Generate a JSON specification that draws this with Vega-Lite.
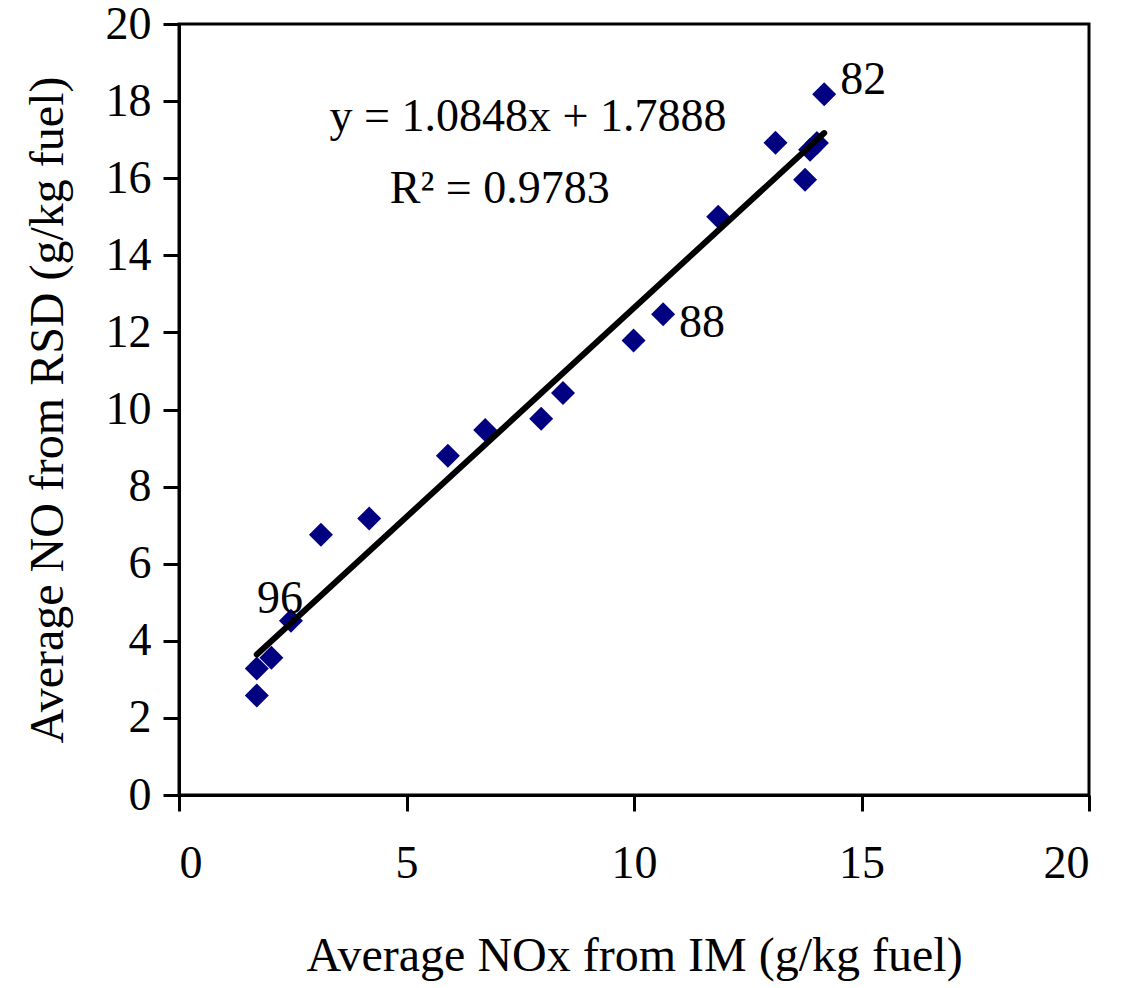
{
  "$schema": "https://vega.github.io/schema/vega-lite/v6.json",
  "width": 910,
  "height": 771,
  "autosize": {"type": "none"},
  "padding": {"left": 179, "top": 24, "right": 32, "bottom": 193},
  "background": "white",
  "config": {
    "font": "Liberation Serif",
    "view": {"stroke": "black", "strokeWidth": 3},
    "text": {"font": "Liberation Serif"},
    "axis": {
      "domainColor": "black", "domainWidth": 3,
      "tickColor": "black", "tickWidth": 3, "tickSize": 16,
      "grid": false,
      "labelFont": "Liberation Serif", "labelFontSize": 46, "labelColor": "black",
      "titleFont": "Liberation Serif", "titleFontSize": 48, "titleFontWeight": "normal", "titleColor": "black"
    }
  },
  "datasets": {
    "points": [
      {"nox_im": 1.71, "no_rsd": 2.58, "label": ""},
      {"nox_im": 1.71, "no_rsd": 3.28, "label": ""},
      {"nox_im": 2.03, "no_rsd": 3.56, "label": ""},
      {"nox_im": 2.46, "no_rsd": 4.52, "label": "96"},
      {"nox_im": 3.12, "no_rsd": 6.75, "label": ""},
      {"nox_im": 4.18, "no_rsd": 7.17, "label": ""},
      {"nox_im": 5.91, "no_rsd": 8.80, "label": ""},
      {"nox_im": 6.73, "no_rsd": 9.47, "label": ""},
      {"nox_im": 7.96, "no_rsd": 9.76, "label": ""},
      {"nox_im": 8.44, "no_rsd": 10.43, "label": ""},
      {"nox_im": 9.99, "no_rsd": 11.79, "label": ""},
      {"nox_im": 10.64, "no_rsd": 12.47, "label": "88"},
      {"nox_im": 11.85, "no_rsd": 15.0, "label": ""},
      {"nox_im": 13.11, "no_rsd": 16.92, "label": ""},
      {"nox_im": 13.76, "no_rsd": 15.96, "label": ""},
      {"nox_im": 13.87, "no_rsd": 16.74, "label": ""},
      {"nox_im": 14.02, "no_rsd": 16.91, "label": ""},
      {"nox_im": 14.18, "no_rsd": 18.18, "label": "82"}
    ],
    "trend": [
      {"nox_im": 1.71, "no_rsd": 3.644},
      {"nox_im": 14.18, "no_rsd": 17.171}
    ],
    "notes": [
      {"nox_im": 7.67, "no_rsd": 17.59, "text": "y = 1.0848x + 1.7888"},
      {"nox_im": 7.05, "no_rsd": 15.72, "text": "R² = 0.9783"}
    ]
  },
  "encoding": {
    "x": {
      "field": "nox_im", "type": "quantitative",
      "scale": {"domain": [0, 20], "nice": false, "zero": true},
      "axis": {"values": [0, 5, 10, 15, 20], "title": "Average NOx from IM (g/kg fuel)", "labelPadding": 30, "titlePadding": 46}
    },
    "y": {
      "field": "no_rsd", "type": "quantitative",
      "scale": {"domain": [0, 20], "nice": false, "zero": true},
      "axis": {"values": [0, 2, 4, 6, 8, 10, 12, 14, 16, 18, 20], "title": "Average NO from RSD (g/kg fuel)", "labelPadding": 12, "titlePadding": 33}
    }
  },
  "layer": [
    {
      "data": {"name": "points"},
      "mark": {"type": "point", "shape": "diamond", "filled": true, "size": 576, "color": "#000080", "opacity": 1}
    },
    {
      "data": {"name": "trend"},
      "mark": {"type": "line", "color": "black", "strokeWidth": 6, "strokeCap": "round"}
    },
    {
      "data": {"name": "points"},
      "transform": [{"filter": "datum.label == '82'"}],
      "mark": {"type": "text", "align": "left", "baseline": "middle", "dx": 16, "dy": -14, "fontSize": 46, "color": "black"},
      "encoding": {"text": {"field": "label"}}
    },
    {
      "data": {"name": "points"},
      "transform": [{"filter": "datum.label == '88'"}],
      "mark": {"type": "text", "align": "left", "baseline": "middle", "dx": 16, "dy": 9, "fontSize": 46, "color": "black"},
      "encoding": {"text": {"field": "label"}}
    },
    {
      "data": {"name": "points"},
      "transform": [{"filter": "datum.label == '96'"}],
      "mark": {"type": "text", "align": "center", "baseline": "middle", "dx": -11, "dy": -22, "fontSize": 46, "color": "black"},
      "encoding": {"text": {"field": "label"}}
    },
    {
      "data": {"name": "notes"},
      "mark": {"type": "text", "align": "center", "baseline": "middle", "fontSize": 46, "color": "black"},
      "encoding": {"text": {"field": "text"}}
    }
  ]
}
